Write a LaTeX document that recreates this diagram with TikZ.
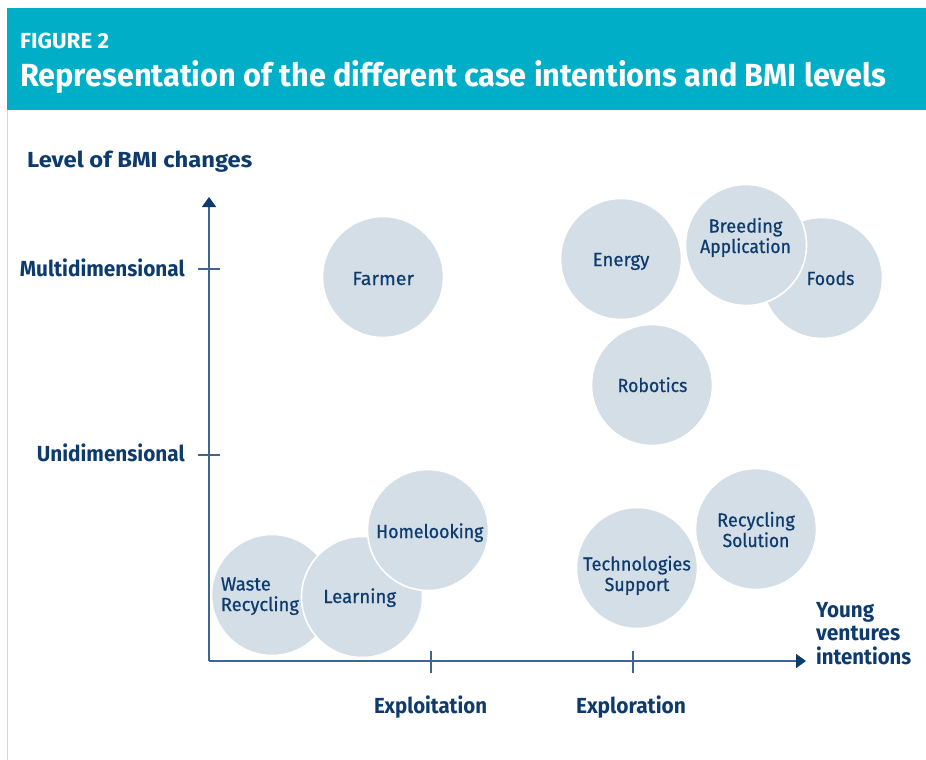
\documentclass[tikz,border=0pt]{standalone}
\usepackage{fontspec}
\setmainfont{Fira Sans}
\newfontfamily\bubblefont[FakeBold=0.6]{Fira Sans}
\usetikzlibrary{arrows.meta}
\definecolor{teal}{HTML}{00AEC7}
\definecolor{navy}{HTML}{0D3B6E}
\definecolor{axisblue}{HTML}{3F6690}
\definecolor{bubblefill}{HTML}{D4DEE6}
\definecolor{edgegray}{HTML}{D6D6D6}
% scale text horizontally to a measured width, keeping its height
\newcommand\fitw[2]{\resizebox{#1pt}{\height}{#2}}
\tikzset{
  bubble/.style={circle, fill=bubblefill, draw=white, line width=1.6pt, minimum size=121pt, inner sep=0pt},
  btext/.style={text=navy, font=\bubblefont\fontsize{18.9}{20.5}\selectfont, inner sep=0pt, align=center},
  axislabel/.style={text=navy, font=\bfseries\fontsize{21.8}{23.5}\selectfont, inner sep=0pt},
  axisline/.style={draw=axisblue, line width=1.8pt},
  tickline/.style={draw=axisblue, line width=1.4pt},
  arrowtip/.style={-{Triangle[width=14pt,length=10pt,color=navy]}}
}
\begin{document}
\begin{tikzpicture}[x=1pt,y=-1pt]
\useasboundingbox (0,0) rectangle (926,760);
% frame
\fill[teal] (7,8) rectangle (926,110);
\draw[edgegray, line width=1pt] (7.5,110) -- (7.5,760);
\node[anchor=base west, text=white, font=\bfseries\fontsize{21.8}{24}\selectfont, inner sep=0pt] (fig) at (20,49) {\fitw{89}{FIGURE 2}};
\node[anchor=base west, text=white, font=\bfseries\fontsize{32}{36}\selectfont, inner sep=0pt] (title) at (20,87) {\fitw{866}{Representation of the different case intentions and BMI levels}};

% axes
\coordinate (O) at (209,661);
\coordinate (ytop) at (209,197);
\coordinate (xend) at (806,661);
\draw[axisline, arrowtip] (O) -- (ytop);
\draw[axisline, arrowtip] (O) -- (xend);
\coordinate (tm1) at (198,269); \coordinate (tm2) at (220,269);
\coordinate (tu1) at (198,455); \coordinate (tu2) at (220,455);
\coordinate (te1) at (431,651); \coordinate (te2) at (431,673);
\coordinate (tx1) at (633,651); \coordinate (tx2) at (633,673);
\draw[tickline] (tm1) -- (tm2);
\draw[tickline] (tu1) -- (tu2);
\draw[tickline] (te1) -- (te2);
\draw[tickline] (tx1) -- (tx2);

\node[axislabel, anchor=base west] (ylab) at (27,167) {\fitw{225}{Level of BMI changes}};
\node[axislabel, anchor=base east] (multi) at (185,276) {\fitw{165}{Multidimensional}};
\node[axislabel, anchor=base east] (uni) at (185,461) {\fitw{148}{Unidimensional}};
\node[axislabel, anchor=base] (exploit) at (430.5,713) {\fitw{113}{Exploitation}};
\node[axislabel, anchor=base] (explor) at (631,713) {\fitw{110}{Exploration}};
\node[axislabel, anchor=base west, align=left] (xlab) at (816,664) {\fitw{58}{Young}\\\fitw{84}{ventures}\\\fitw{95}{intentions}};

% bubbles
\node[bubble] (farmer) at (383,277) {};
\node[bubble] (energy) at (621,259) {};
\node[bubble] (foods) at (822,278) {};
\node[bubble] (breeding) at (746,245) {};
\node[bubble] (robotics) at (652,385) {};
\node[bubble] (waste) at (272,595) {};
\node[bubble] (learning) at (362,597) {};
\node[bubble] (home) at (428,530) {};
\node[bubble] (tech) at (637,568) {};
\node[bubble] (recsol) at (756,529) {};

% bubble texts
\node[btext, anchor=base] (farmert) at (383.2,285) {\fitw{61.7}{Farmer}};
\node[btext, anchor=base] (energyt) at (621,266) {\fitw{56.7}{Energy}};
\node[btext, anchor=base] (breedingt) at (745.5,253) {\fitw{73.7}{Breeding}\\\fitw{90.7}{Application}};
\node[btext, anchor=base] (foodst) at (830.5,285) {\fitw{47.7}{Foods}};
\node[btext, anchor=base] (roboticst) at (652.5,392) {\fitw{69.7}{Robotics}};
\node[btext, anchor=base west, align=left] (wastet) at (220.7,611) {\fitw{50}{Waste}\\\fitw{78}{Recycling}};
\node[btext, anchor=base] (learningt) at (359.7,603) {\fitw{72.7}{Learning}};
\node[btext, anchor=base] (homet) at (429.7,538) {\fitw{107.3}{Homelooking}};
\node[btext, anchor=base] (techt) at (637,591) {\fitw{107.7}{Technologies}\\\fitw{64.7}{Support}};
\node[btext, anchor=base] (recsolt) at (756,547) {\fitw{77.7}{Recycling}\\\fitw{66.7}{Solution}};
\end{tikzpicture}
\end{document}
